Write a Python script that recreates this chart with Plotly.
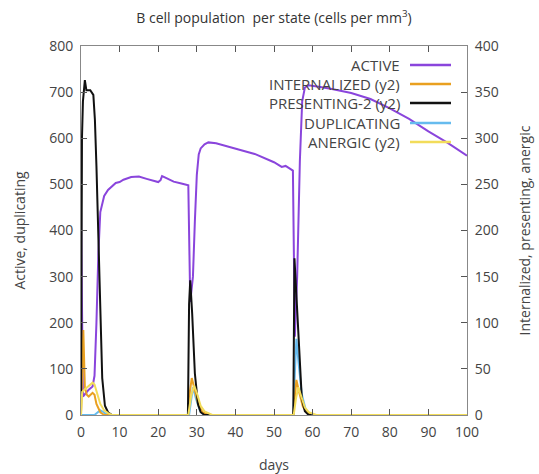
import plotly.graph_objects as go

# ---------------- data ----------------
active_days = [0, 0.5, 1, 2, 3, 3.5, 4, 4.5, 5, 6, 7, 8, 9, 10, 11, 13, 15, 17, 19, 20, 20.6, 21, 22, 24, 26, 27.8,
               28.3, 29, 29.5, 30, 30.5, 31, 32, 33, 35, 40, 45, 50, 52, 53, 54.9,
               55.4, 56, 56.7, 57.3, 58, 59, 62, 65, 70, 75, 80, 85, 90, 95, 100]
active_vals = [445, 40, 45, 55, 62, 85, 200, 350, 440, 475, 488, 495, 503, 505, 510, 516, 517, 512, 508, 505, 509, 518, 514, 506, 502, 498,
               245, 300, 420, 520, 565, 578, 587, 591, 589, 578, 566, 548, 538, 540, 530,
               170, 300, 550, 680, 710, 715, 711, 707, 698, 685, 665, 642, 615, 590, 562]

internal_days = [0, 0.3, 0.6, 1.0, 1.5, 2, 3, 3.5, 4, 5, 6, 27.7, 28.2, 28.7, 29.5, 30.5, 31.5, 33, 55.0, 55.4, 55.8, 56.5, 57.5, 58.5, 60, 100]
internal_vals = [0, 60, 92, 30, 22, 20, 24, 22, 12, 3, 0, 0, 25, 40, 28, 10, 3, 0, 0, 25, 38, 25, 9, 3, 0, 0]

present_days = [0, 0.25, 0.5, 1.0, 1.4, 2.4, 3.2, 3.6, 4.0, 4.5, 5.0, 5.5, 6.2, 7, 8, 27.7, 28.0, 28.3, 28.8, 29.5, 30.3, 31, 32,
                55.0, 55.3, 55.8, 56.5, 57.2, 58, 59, 100]
present_vals = [0, 300, 340, 363, 352, 352, 347, 320, 270, 200, 110, 40, 10, 3, 0, 0, 120, 146, 110, 45, 12, 3, 0,
                0, 170, 130, 60, 18, 4, 0, 0]

dup_days = [0, 3.5, 4.5, 5.0, 5.5, 6.5, 8, 28.0, 28.5, 29.0, 29.8, 30.8, 32, 55.0, 55.4, 55.8, 56.4, 57.2, 58.2, 59.5, 100]
dup_vals = [0, 0, 7, 10, 8, 2, 0, 0, 30, 60, 35, 10, 0, 0, 90, 165, 110, 45, 12, 0, 0]

anergic_days = [0, 0.3, 1, 2, 3, 3.5, 4, 5, 6, 7, 8, 27.8, 28.5, 29.3, 30, 31, 32, 34, 55.1, 55.7, 56.3, 57, 58, 59, 61, 100]
anergic_vals = [0, 25, 28, 32, 35, 33, 25, 12, 5, 2, 0, 0, 20, 32, 24, 10, 4, 0, 0, 18, 30, 20, 8, 3, 0, 0]

legend_labels = ["ACTIVE", "INTERNALIZED (y2)", "PRESENTING-2 (y2)", "DUPLICATING", "ANERGIC (y2)"]
colors = ["#8a45dc", "#e9a020", "#111111", "#66bbee", "#f2dc5a"]

x_ticks = list(range(0, 101, 10))
y_ticks = list(range(0, 801, 100))
y2_ticks = list(range(0, 401, 50))

# ---------------- figure ----------------
fig = go.Figure()
series = [
    (active_days, active_vals, "y"),
    (internal_days, internal_vals, "y2"),
    (present_days, present_vals, "y2"),
    (dup_days, dup_vals, "y"),
    (anergic_days, anergic_vals, "y2"),
]
for (xs, ys, ax), name, col in zip(series, legend_labels, colors):
    fig.add_trace(go.Scatter(x=xs, y=ys, mode="lines", name=name, yaxis=ax,
                             line=dict(color=col, width=2), showlegend=False))

# gnuplot-style legend: text right-aligned, sample to the right
L, R, T, B = 81, 467, 46, 415
def px_x(p):
    return (p - L) / (R - L)
def px_y(p):
    return (B - p) / (B - T)

row_y = [65, 84, 103, 123, 142]
for lab, col, yy in zip(legend_labels, colors, row_y):
    fig.add_annotation(x=px_x(402), y=px_y(yy), xref="paper", yref="paper", text=lab,
                       showarrow=False, xanchor="right", yanchor="middle",
                       font=dict(size=15, color="#444444"))
    fig.add_shape(type="line", xref="paper", yref="paper",
                  x0=px_x(410), x1=px_x(451), y0=px_y(yy), y1=px_y(yy),
                  line=dict(color=col, width=2.5))

axis_common = dict(showgrid=False, zeroline=False, showline=True, linecolor="#888888", linewidth=1,
                   ticks="inside", ticklen=6, tickcolor="#555555", automargin=False,
                   ticklabelstandoff=4,
                   tickfont=dict(size=14, color="#444444"))

fig.update_layout(
    width=539, height=474,
    margin=dict(l=L, r=539 - R, t=T, b=474 - B),
    paper_bgcolor="white", plot_bgcolor="white",
    font=dict(family="Open Sans, DejaVu Sans, sans-serif", color="#444444"),
    title=dict(text="B cell population  per state (cells per mm<sup>3</sup>)", x=0.5, xref="paper",
               y=0.962, yanchor="middle", font=dict(size=14, color="#333333")),
    xaxis=dict(range=[0, 100], tickvals=x_ticks, mirror="ticks",
               title=dict(text="days", font=dict(size=14, color="#444444"), standoff=20), **axis_common),
    yaxis=dict(range=[0, 800], tickvals=y_ticks,
               title=dict(text="Active, duplicating", font=dict(size=14, color="#444444"), standoff=20), **axis_common),
    yaxis2=dict(range=[0, 400], tickvals=y2_ticks, overlaying="y", side="right",
                title=dict(text="Internalized, presenting, anergic", font=dict(size=14, color="#444444"), standoff=22),
                **axis_common),
)

fig.write_html("out.html", config={"displayModeBar": False},
               post_script="document.body.style.margin='0px';")
